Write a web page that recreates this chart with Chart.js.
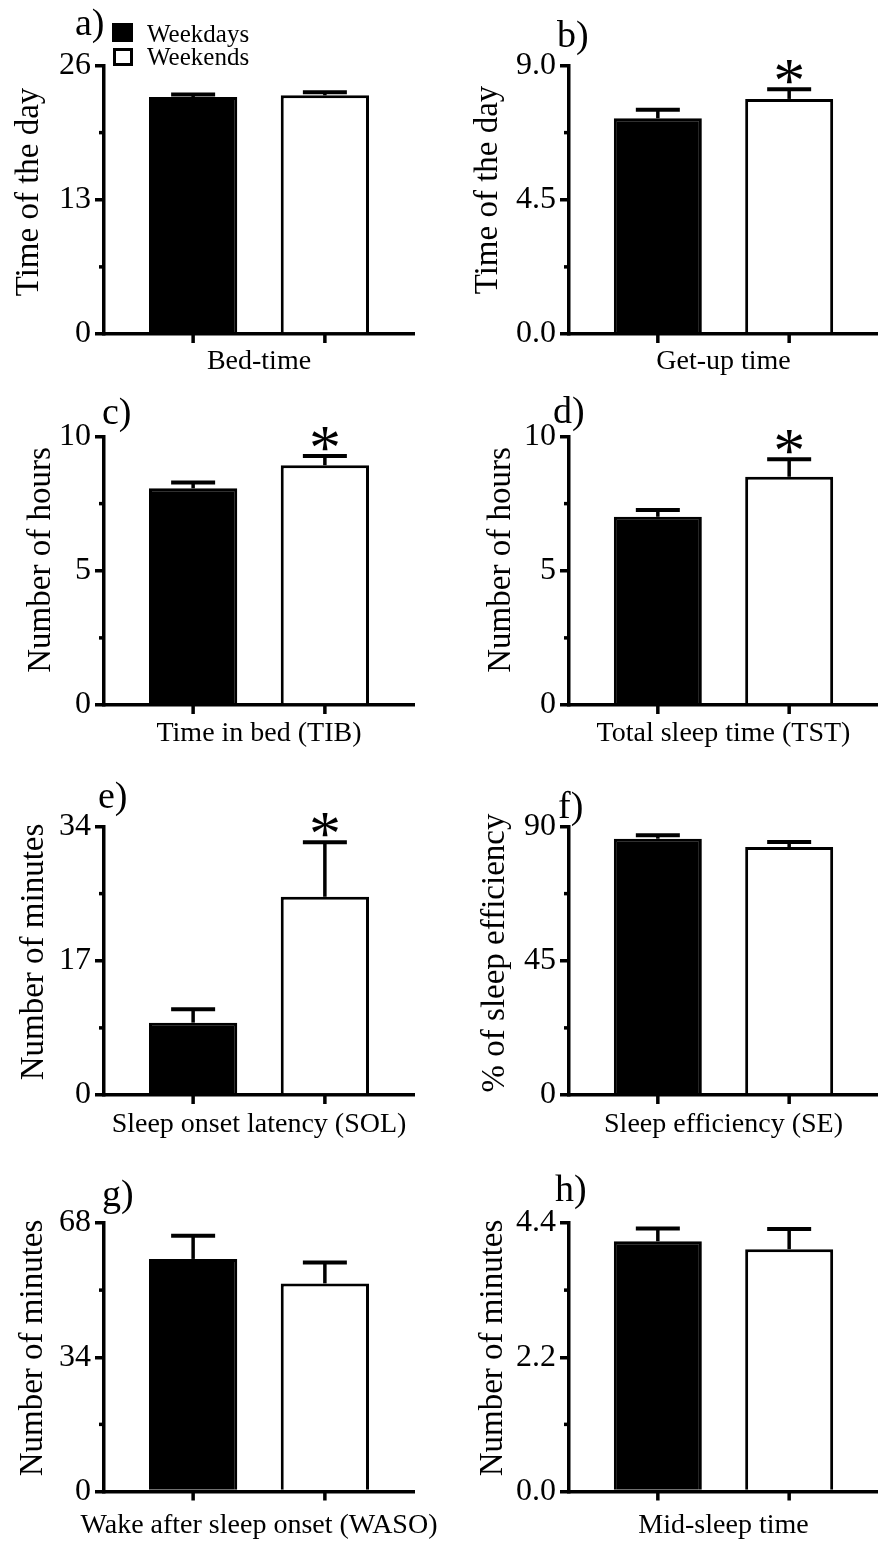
<!DOCTYPE html>
<html>
<head>
<meta charset="utf-8">
<title>Sleep parameters: weekdays vs weekends</title>
<script src="https://cdn.jsdelivr.net/npm/chart.js@4.4.1/dist/chart.umd.min.js"></script>
<style>
html,body{margin:0;padding:0;background:#fff;overflow:hidden}
#figure{position:relative;width:878px;height:1541px}
#figure canvas{position:absolute}
</style>
</head>
<body>
<div id="figure"></div>
<script>
'use strict';
const SERIF = "'Liberation Serif', 'Times New Roman', serif";

// ── data ─────────────────────────────────────────
const groups = ['Weekdays', 'Weekends'];
const measures = ['Bed-time', 'Get-up time', 'Time in bed (TIB)', 'Total sleep time (TST)',
  'Sleep onset latency (SOL)', 'Sleep efficiency (SE)', 'Wake after sleep onset (WASO)', 'Mid-sleep time'];
const panelTags = ['a)', 'b)', 'c)', 'd)', 'e)', 'f)', 'g)', 'h)'];
const yTitles = ['Time of the day', 'Time of the day', 'Number of hours', 'Number of hours',
  'Number of minutes', '% of sleep efficiency', 'Number of minutes', 'Number of minutes'];
const yMax = [26, 9, 10, 10, 34, 90, 68, 4.4];
const yTickLabels = [['0', '13', '26'], ['0.0', '4.5', '9.0'], ['0', '5', '10'], ['0', '5', '10'],
  ['0', '17', '34'], ['0', '45', '90'], ['0', '34', '68'], ['0.0', '2.2', '4.4']];
const weekdayMean = [22.94, 7.23, 8.07, 7.01, 9.16, 85.9, 58.9, 4.10];
const weekdaySem  = [0.24, 0.29, 0.22, 0.25, 1.69, 1.15, 5.9, 0.21];
const weekendMean = [23.11, 7.88, 8.93, 8.50, 25.1, 83.1, 52.7, 3.97];
const weekendSem  = [0.29, 0.32, 0.34, 0.65, 6.9, 1.7, 5.3, 0.33];
const significant = [false, true, true, true, true, false, false, false];

// ── panel grid (2 columns x 4 rows) ──────────────
const ROWS = [
  {top: 0,    h: 380, plotTop: 65.5, plotBottom: 334,   labelOff: 37},
  {top: 380,  h: 380, plotTop: 56.5, plotBottom: 325,   labelOff: 38},
  {top: 760,  h: 390, plotTop: 66.5, plotBottom: 335,   labelOff: 39},
  {top: 1150, h: 391, plotTop: 73,   plotBottom: 341.5, labelOff: 43},
];
const COLS = [
  {left: 0,   w: 462, plotLeft: 104, plotRight: 414},
  {left: 440, w: 438, plotLeft: 129, plotRight: 438},
];
const tagPos   = [[75, 35], [117, 47], [102, 44], [113, 43], [98, 48], [118, 58], [102, 56], [115, 51]];
const titlePos = [[38, 192], [57, 190], [50, 180], [70, 180], [43, 192], [64, 193], [42, 198], [62, 198]];

function line(ctx, x1, y1, x2, y2, w) {
  ctx.lineWidth = w;
  ctx.beginPath(); ctx.moveTo(x1, y1); ctx.lineTo(x2, y2); ctx.stroke();
}

function panelPlugin(i) {
  return {
    id: 'panelDeco',
    afterDatasetsDraw(chart) {
      const {ctx, scales: {y}} = chart;
      ctx.save();
      ctx.strokeStyle = '#000'; ctx.fillStyle = '#000';
      chart.data.datasets.forEach((ds, d) => {
        const bar = chart.getDatasetMeta(d).data[0];
        const capY = y.getPixelForValue(ds.data[0] + ds.sem[0]);
        line(ctx, bar.x, bar.y, bar.x, capY, 3.5);
        line(ctx, bar.x - 22, capY, bar.x + 22, capY, 4);
        if (d === 1 && significant[i]) {
          ctx.font = `64px ${SERIF}`;
          ctx.textAlign = 'center'; ctx.textBaseline = 'alphabetic';
          ctx.fillText('*', bar.x, capY - 16 + 29);
        }
      });
      ctx.restore();
    },
    afterDraw(chart) {
      const {ctx, chartArea: area, scales: {y}} = chart;
      ctx.save();
      ctx.strokeStyle = '#000'; ctx.fillStyle = '#000';
      // short ticks between the labelled ones
      [yMax[i] / 4, yMax[i] * 3 / 4].forEach(v => {
        const py = y.getPixelForValue(v);
        line(ctx, area.left - 5, py, area.left, py, 3.5);
      });
      // tick under each bar
      chart.data.datasets.forEach((ds, d) => {
        const bar = chart.getDatasetMeta(d).data[0];
        line(ctx, bar.x, area.bottom, bar.x, area.bottom + 9, 3.5);
      });
      // panel tag
      ctx.font = `38px ${SERIF}`;
      ctx.textAlign = 'left'; ctx.textBaseline = 'alphabetic';
      ctx.fillText(panelTags[i], tagPos[i][0], tagPos[i][1]);
      // y axis title
      ctx.save();
      ctx.translate(titlePos[i][0], titlePos[i][1]);
      ctx.rotate(-Math.PI / 2);
      ctx.font = `33px ${SERIF}`;
      ctx.textAlign = 'center';
      ctx.fillText(yTitles[i], 0, 0);
      ctx.restore();
      // legend (first panel only)
      if (i === 0) {
        ctx.fillRect(112, 23, 21, 19);
        ctx.lineWidth = 3;
        ctx.strokeRect(114.5, 49.5, 17, 15);
        ctx.font = `25px ${SERIF}`;
        ctx.fillText(groups[0], 147, 41.5);
        ctx.fillText(groups[1], 147, 65);
      }
      ctx.restore();
    }
  };
}

function drawPanel(i) {
  const row = ROWS[Math.floor(i / 2)], col = COLS[i % 2];
  const cv = document.createElement('canvas');
  cv.width = col.w; cv.height = row.h;
  cv.style.left = col.left + 'px'; cv.style.top = row.top + 'px';
  document.getElementById('figure').appendChild(cv);

  const barOpts = {categoryPercentage: 0.85, barPercentage: 0.67, borderWidth: 3, borderColor: '#000'};
  new Chart(cv, {
    type: 'bar',
    data: {
      labels: [measures[i]],
      datasets: [
        {label: groups[0], data: [weekdayMean[i]], sem: [weekdaySem[i]], backgroundColor: '#000', ...barOpts},
        {label: groups[1], data: [weekendMean[i]], sem: [weekendSem[i]], backgroundColor: '#fff', ...barOpts},
      ]
    },
    options: {
      responsive: false, animation: false, devicePixelRatio: 1,
      layout: {padding: {top: row.plotTop, right: col.w - col.plotRight, left: 0, bottom: 0}},
      plugins: {legend: {display: false}, tooltip: {enabled: false}},
      scales: {
        x: {
          z: 1,
          grid: {display: false, drawTicks: false},
          border: {display: true, color: '#000', width: 3.5},
          ticks: {color: '#000', font: {family: SERIF, size: 28}, padding: row.labelOff - 26, maxRotation: 0, autoSkip: false},
          afterFit: s => {
            s.height = row.h - row.plotBottom;
            // long labels may overhang the plot; keep the plot width fixed
            s.paddingLeft = 0; s.paddingRight = 0;
          }
        },
        y: {
          z: 1, min: 0, max: yMax[i],
          grid: {drawOnChartArea: false, drawTicks: true, tickLength: 9, color: '#000', lineWidth: 3.5},
          border: {display: true, color: '#000', width: 3.5},
          ticks: {color: '#000', font: {family: SERIF, size: 32}, padding: 4,
                  callback: (v, idx) => yTickLabels[i][idx]},
          afterBuildTicks: s => { s.ticks = [0, yMax[i] / 2, yMax[i]].map(value => ({value})); },
          afterFit: s => { s.width = col.plotLeft; s.paddingTop = 0; s.paddingBottom = 0; }
        }
      }
    },
    plugins: [panelPlugin(i)]
  });
}

measures.forEach((_, i) => drawPanel(i));
</script>
</body>
</html>
